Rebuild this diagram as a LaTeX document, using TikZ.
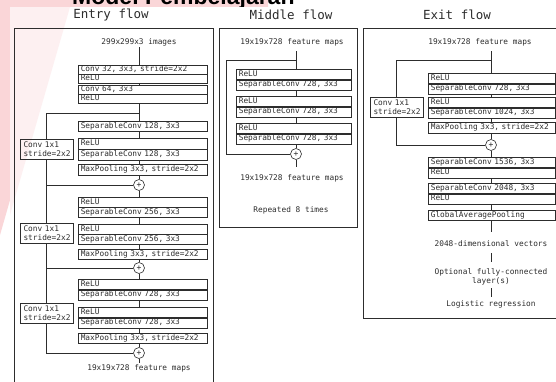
\documentclass[tikz,border=0pt]{standalone}
\usepackage{fontspec}
\setmonofont{DejaVu Sans Mono}
\newfontfamily\headfont{Liberation Sans}
\definecolor{pinkbg}{RGB}{250,214,216}
\definecolor{inkc}{RGB}{45,45,45}
\newcommand\twocell[7]{%
  \node[cell, text width=#4pt, minimum height=#5pt] (#1a) at (#2,#3) {#6};
  \node[cell, text width=#4pt, minimum height=#5pt] (#1b) at (#1a.south west) {#7};}
\begin{document}
\begin{tikzpicture}[x=1pt,y=-1pt,
  every node/.style={font=\ttfamily\fontsize{7.8}{9}\selectfont, text=inkc},
  ln/.style={draw=inkc, line width=0.6pt},
  cell/.style={draw=inkc, line width=0.6pt, anchor=north west, inner xsep=2.5pt, inner ysep=0pt, align=left, text height=5.6pt, text depth=1.6pt},
  sum/.style={circle, draw=inkc, line width=0.6pt, minimum size=11pt, inner sep=0pt, fill=white, font=\ttfamily\fontsize{8}{8}\selectfont},
  skipbox/.style={draw=inkc, line width=0.6pt, align=left, inner xsep=3.5pt, inner ysep=0pt, text width=46pt, minimum height=20pt},
  title/.style={font=\ttfamily\fontsize{12.5}{14}\selectfont},
  frame/.style={draw=inkc, line width=0.7pt},
  plain/.style={inner sep=1pt}
]
\useasboundingbox (0,0) rectangle (556,381);
\clip (0,0) rectangle (556,381);
\fill[white] (0,0) rectangle (556,381);
% slide background
\fill[pinkbg] (0,0) -- (268,0) -- (268,7) -- (10,7) -- (10,200) -- (0,235) -- cycle;
\node[anchor=base west, inner sep=0pt, font=\headfont\bfseries\fontsize{23}{25}\selectfont, text=black] (hd) at (72,4) {Model Pembelajaran};
\fill[white] (10,7) rectangle (556,381);
\fill[pinkbg, opacity=0.35] (10,7) -- (70,7) -- (10,215) -- cycle;

% ================= Entry flow =================
\draw[frame] (14,28) rectangle (213,400);
\node[title] (etitle) at (111,15) {Entry flow};
\coordinate (ex) at (139,0);
\node[plain] (ein) at (139,42) {299x299x3 images};
\twocell{eb1}{78}{65}{124}{8.5}{Conv 32, 3x3, stride=2x2}{ReLU}
\twocell{eb2}{78}{85}{124}{8.5}{Conv 64, 3x3}{ReLU}
\node[cell, text width=124pt, minimum height=10pt] (es1) at (78,121) {SeparableConv 128, 3x3};
\twocell{es2}{78}{138}{124}{10.5}{ReLU}{SeparableConv 128, 3x3}
\node[cell, text width=124pt, minimum height=11pt] (emp1) at (78,164) {MaxPooling 3x3, stride=2x2};
\node[sum] (ec1) at (139,185) {+};
\node[skipbox] (ek1) at (46.5,149) {Conv 1x1\\stride=2x2};

\twocell{e2p}{78}{197}{124}{9.5}{ReLU}{SeparableConv 256, 3x3}
\twocell{e2q}{78}{224}{124}{9.5}{ReLU}{SeparableConv 256, 3x3}
\node[cell, text width=124pt, minimum height=10pt] (emp2) at (78,249) {MaxPooling 3x3, stride=2x2};
\node[sum] (ec2) at (139,268) {+};
\node[skipbox] (ek2) at (46.5,233) {Conv 1x1\\stride=2x2};

\twocell{e3p}{78}{279}{124}{10}{ReLU}{SeparableConv 728, 3x3}
\twocell{e3q}{78}{307}{124}{10}{ReLU}{SeparableConv 728, 3x3}
\node[cell, text width=124pt, minimum height=10pt] (emp3) at (78,333) {MaxPooling 3x3, stride=2x2};
\node[sum] (ec3) at (139,353) {+};
\node[skipbox] (ek3) at (46.5,313.5) {Conv 1x1\\stride=2x2};
\node[plain] (eout) at (139,368) {19x19x728 feature maps};

\draw[ln] (ein.south -| ex) -- (eb1a.north -| ex);
\draw[ln] (eb1b.south -| ex) -- (eb2a.north -| ex);
\draw[ln] (eb2b.south -| ex) -- (es1.north -| ex);
\draw[ln] (es1.south -| ex) -- (es2a.north -| ex);
\draw[ln] (es2b.south -| ex) -- (emp1.north -| ex);
\draw[ln] (emp1.south -| ex) -- (ec1.north);
\draw[ln] (ec1.south) -- (e2pa.north -| ex);
\draw[ln] (e2pb.south -| ex) -- (e2qa.north -| ex);
\draw[ln] (e2qb.south -| ex) -- (emp2.north -| ex);
\draw[ln] (emp2.south -| ex) -- (ec2.north);
\draw[ln] (ec2.south) -- (e3pa.north -| ex);
\draw[ln] (e3pb.south -| ex) -- (e3qa.north -| ex);
\draw[ln] (e3qb.south -| ex) -- (emp3.north -| ex);
\draw[ln] (emp3.south -| ex) -- (ec3.north);
\draw[ln] (ec3.south) -- (eout.north);
\coordinate (ebr) at (139,113);
\draw[ln] (ebr) -| (ek1.north);
\draw[ln] (ek1.south) |- (ec1.west);
\draw[ln] (ec1.west) -| (ek2.north);
\draw[ln] (ek2.south) |- (ec2.west);
\draw[ln] (ec2.west) -| (ek3.north);
\draw[ln] (ek3.south) |- (ec3.west);

% ================= Middle flow =================
\draw[frame] (219,28) rectangle (357,227);
\node[title] (mtitle) at (291,15) {Middle flow};
\coordinate (mx) at (296,0);
\node[plain] (min) at (292,42) {19x19x728 feature maps};
\twocell{m1}{236}{69}{110}{10}{ReLU}{SeparableConv 728, 3x3}
\twocell{m2}{236}{96}{110}{10}{ReLU}{SeparableConv 728, 3x3}
\twocell{m3}{236}{123}{110}{10}{ReLU}{SeparableConv 728, 3x3}
\node[sum] (ms) at (296,154) {+};
\node[plain] (mout) at (292,178) {19x19x728 feature maps};
\node[plain] (mrep) at (291,210) {Repeated 8 times};
\coordinate (mtop) at (296,51);
\coordinate (mbr) at (296,60);
\coordinate (mskip) at (226,60);
\coordinate (mend) at (296,167);
\draw[ln] (mtop) -- (m1a.north -| mx);
\draw[ln] (m1b.south -| mx) -- (m2a.north -| mx);
\draw[ln] (m2b.south -| mx) -- (m3a.north -| mx);
\draw[ln] (m3b.south -| mx) -- (ms.north);
\draw[ln] (mbr) -- (mskip) |- (ms.west);
\draw[ln] (ms.south) -- (mend);

% ================= Exit flow =================
\draw[frame] (363,28) rectangle (620,318);
\node[title] (xtitle) at (457,15) {Exit flow};
\coordinate (xx) at (491,0);
\node[plain] (xin) at (480,42) {19x19x728 feature maps};
\twocell{x1}{428}{73}{122}{10}{ReLU}{SeparableConv 728, 3x3}
\twocell{x2}{428}{97}{122}{10}{ReLU}{SeparableConv 1024, 3x3}
\node[cell, text width=122pt, minimum height=11pt] (xmp) at (428,122) {MaxPooling 3x3, stride=2x2};
\node[sum] (xs) at (491,145) {+};
\node[skipbox] (xk) at (396.5,107) {Conv 1x1\\stride=2x2};
\twocell{xf1}{428}{157}{122}{10}{SeparableConv 1536, 3x3}{ReLU}
\twocell{xf2}{428}{183}{122}{10}{SeparableConv 2048, 3x3}{ReLU}
\node[cell, text width=122pt, minimum height=10pt] (xg) at (428,210) {GlobalAveragePooling};
\node[plain] (xvec) at (491,244) {2048-dimensional vectors};
\node[plain, align=center] (xfc) at (491,277) {Optional fully-connected\\layer(s)};
\node[plain] (xlr) at (491,304) {Logistic regression};
\coordinate (xtop) at (491,51);
\coordinate (xbr) at (491,60);
\coordinate (xgend) at (491,232);
\coordinate (xv1) at (491,253);
\coordinate (xv2) at (491,262);
\coordinate (xf1s) at (491,288);
\coordinate (xf2s) at (491,297);
\draw[ln] (xtop) -- (x1a.north -| xx);
\draw[ln] (x1b.south -| xx) -- (x2a.north -| xx);
\draw[ln] (x2b.south -| xx) -- (xmp.north -| xx);
\draw[ln] (xmp.south -| xx) -- (xs.north);
\draw[ln] (xbr) -| (xk.north);
\draw[ln] (xk.south) |- (xs.west);
\draw[ln] (xs.south) -- (xf1a.north -| xx);
\draw[ln] (xf1b.south -| xx) -- (xf2a.north -| xx);
\draw[ln] (xf2b.south -| xx) -- (xg.north -| xx);
\draw[ln] (xg.south -| xx) -- (xgend);
\draw[ln] (xv1) -- (xv2);
\draw[ln] (xf1s) -- (xf2s);
\end{tikzpicture}
\end{document}
